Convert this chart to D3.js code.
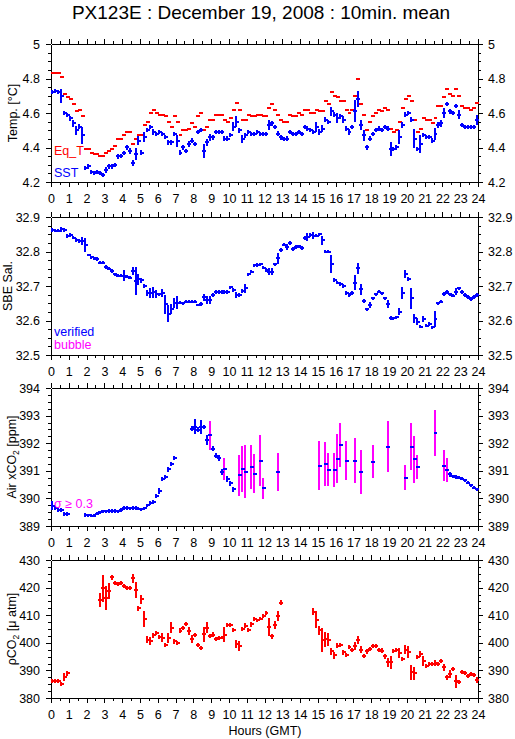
<!DOCTYPE html>
<html><head><meta charset="utf-8">
<script src="https://cdn.jsdelivr.net/npm/d3@7"></script>
<style>
body{margin:0;background:#fff}
svg text{font-family:"Liberation Sans",Arial,Helvetica,sans-serif;fill:#000}
</style></head><body>
<svg id="c" width="515" height="739"></svg>
<script>
// ---------- DATA (10-minute means, bin index 0..143) ----------
const hourLabels = ["0","1","2","3","4","5","6","7","8","9","10","11","12","13","14","15","16","17","18","19","20","21","22","23","24"];
// centre of each 10-minute bin, in hours
const binHours = d3.range(144).map(i => (i * 10 + 5) / 60);

const tempTicks = [4.2, 4.4, 4.6, 4.8, 5];
const tempTickLabels = ["4.2", "4.4", "4.6", "4.8", "5"];
const salTicks = [32.5, 32.6, 32.7, 32.8, 32.9];
const salTickLabels = ["32.5", "32.6", "32.7", "32.8", "32.9"];
const airTicks = [389, 390, 391, 392, 393, 394];
const airTickLabels = ["389", "390", "391", "392", "393", "394"];
const pco2Ticks = [380, 390, 400, 410, 420, 430];
const pco2TickLabels = ["380", "390", "400", "410", "420", "430"];

const eqT = [
4.83,4.83,4.83,4.81,4.71,4.69,4.68,4.65,4.61,4.62,
4.58,4.39,4.39,4.37,4.36,4.36,4.35,4.35,4.37,4.38,
4.39,4.41,4.45,4.45,4.47,4.49,4.49,4.42,4.45,4.47,
4.47,4.53,4.55,4.60,4.62,4.60,4.59,4.59,4.58,4.55,
4.52,4.58,4.55,4.47,4.50,4.50,4.51,4.54,4.52,4.58,
4.60,4.50,4.52,4.56,4.56,4.59,4.59,4.59,4.56,4.55,
4.57,4.62,4.66,4.62,4.56,4.56,4.59,4.58,4.58,4.59,
4.59,4.58,4.58,4.63,4.65,4.62,4.59,4.56,4.55,4.55,
4.59,4.58,4.58,4.60,4.59,4.62,4.62,4.60,4.60,4.62,
4.61,4.61,4.67,4.65,4.72,4.70,4.69,4.67,4.67,4.62,
4.60,4.62,4.70,4.80,4.65,4.59,4.50,4.55,4.58,4.60,
4.62,4.61,4.63,4.62,4.51,4.49,4.50,4.55,4.63,4.68,
4.70,4.67,4.56,4.49,4.51,4.57,4.56,4.56,4.54,4.57,
4.64,4.64,4.69,4.74,4.71,4.70,4.74,4.70,4.64,4.63,
4.63,4.62,4.63,4.66];

const sst = [
4.72,4.73,4.72,4.70,4.60,4.59,4.57,4.54,4.50,4.52,
4.47,4.28,4.29,4.26,4.25,4.26,4.25,4.24,4.27,4.29,
4.29,4.30,4.35,4.35,4.37,4.40,4.38,4.31,4.36,4.44,
4.37,4.46,4.50,4.52,4.49,4.48,4.49,4.48,4.46,4.43,
4.43,4.48,4.44,4.37,4.40,4.38,4.42,4.44,4.42,4.49,
4.50,4.38,4.43,4.46,4.46,4.49,4.49,4.49,4.45,4.45,
4.47,4.52,4.55,4.50,4.45,4.47,4.49,4.48,4.48,4.49,
4.48,4.48,4.48,4.53,4.54,4.52,4.48,4.46,4.45,4.45,
4.49,4.48,4.48,4.49,4.48,4.52,4.51,4.50,4.49,4.52,
4.49,4.51,4.56,4.55,4.61,4.59,4.57,4.58,4.56,4.51,
4.49,4.52,4.61,4.68,4.53,4.47,4.40,4.45,4.48,4.50,
4.51,4.50,4.52,4.51,4.39,4.39,4.40,4.46,4.53,4.59,
4.60,4.56,4.45,4.39,4.42,4.47,4.46,4.46,4.44,4.48,
4.53,4.54,4.60,4.65,4.61,4.60,4.64,4.59,4.53,4.52,
4.52,4.52,4.52,4.56];

const sstSd = [
.012,.012,.012,.04,.012,.012,.015,.02,.025,.015,
.05,.012,.012,.012,.012,.012,.012,.012,.015,.012,
.012,.012,.015,.012,.012,.012,.015,.02,.035,.025,
.015,.03,.012,.012,.015,.012,.012,.012,.012,.015,
.015,.012,.035,.015,.015,.012,.015,.015,.012,.012,
.012,.04,.02,.02,.015,.012,.012,.012,.015,.015,
.012,.025,.03,.015,.025,.015,.012,.012,.012,.012,
.012,.012,.012,.03,.015,.012,.015,.015,.012,.015,
.012,.012,.012,.012,.012,.012,.012,.012,.012,.03,
.02,.02,.015,.012,.025,.015,.03,.015,.02,.012,
.015,.012,.065,.045,.03,.03,.012,.015,.012,.012,
.012,.012,.012,.012,.04,.012,.012,.04,.015,.015,
.012,.015,.055,.012,.05,.012,.012,.012,.015,.035,
.015,.02,.03,.012,.015,.012,.012,.025,.012,.012,
.012,.012,.012,.03];

const salinity = [
32.862,32.860,32.860,32.864,32.862,32.845,32.848,32.840,32.833,32.830,
32.830,32.820,32.790,32.783,32.780,32.778,32.768,32.768,32.755,32.750,
32.744,32.734,32.730,32.730,32.730,32.727,32.724,32.743,32.714,32.720,
32.717,32.700,32.679,32.680,32.682,32.677,32.676,32.680,32.647,32.620,
32.634,32.650,32.652,32.652,32.650,32.655,32.655,32.655,32.655,32.645,
32.648,32.667,32.660,32.660,32.674,32.682,32.682,32.683,32.683,32.683,
32.696,32.688,32.674,32.674,32.686,32.693,32.734,32.742,32.760,32.761,
32.763,32.753,32.746,32.742,32.742,32.763,32.780,32.804,32.820,32.813,
32.824,32.807,32.813,32.815,32.810,32.838,32.841,32.848,32.846,32.846,
32.850,32.833,32.800,32.800,32.764,32.717,32.710,32.706,32.700,32.680,
32.674,32.680,32.710,32.751,32.690,32.657,32.632,32.645,32.664,32.676,
32.684,32.679,32.664,32.648,32.606,32.606,32.609,32.626,32.680,32.735,
32.720,32.664,32.606,32.597,32.582,32.604,32.585,32.590,32.580,32.604,
32.650,32.655,32.676,32.682,32.676,32.672,32.684,32.693,32.682,32.674,
32.668,32.662,32.668,32.674];

const salSd = [
.005,.004,.004,.007,.005,.005,.005,.005,.006,.006,
.012,.02,.004,.004,.004,.005,.005,.005,.005,.005,
.005,.005,.005,.005,.015,.005,.005,.012,.04,.016,
.007,.005,.008,.014,.016,.012,.005,.012,.028,.025,
.015,.015,.018,.005,.005,.005,.005,.005,.005,.004,
.005,.01,.011,.011,.005,.005,.005,.005,.005,.005,
.005,.005,.01,.005,.005,.014,.005,.005,.005,.005,
.005,.005,.005,.011,.011,.005,.015,.005,.005,.01,
.005,.005,.005,.005,.005,.006,.012,.005,.01,.005,
.005,.013,.005,.005,.025,.006,.005,.006,.005,.005,
.005,.005,.022,.015,.015,.006,.005,.009,.005,.005,
.005,.005,.005,.011,.006,.005,.005,.01,.018,.011,
.006,.03,.012,.011,.005,.008,.005,.005,.005,.024,
.005,.005,.006,.005,.005,.005,.009,.005,.005,.005,
.005,.005,.005,.005];

const airXco2 = [
389.74,389.66,389.57,389.57,389.45,389.45,null,null,null,null,
null,389.40,389.39,389.38,389.38,389.45,389.50,389.53,389.53,389.54,
389.54,389.54,389.53,389.58,389.65,389.65,389.64,389.65,389.65,389.63,
389.60,389.64,389.75,389.83,389.87,390.08,390.27,390.71,390.78,391.05,
391.25,391.47,null,null,null,null,null,392.53,392.60,392.49,
392.60,392.59,392.10,392.28,391.80,391.55,391.47,390.96,391.07,390.71,
390.54,390.33,null,390.83,391.07,390.96,null,391.14,390.90,null,
391.37,390.36,null,null,null,null,390.96,null,null,null,
null,null,null,null,null,null,null,null,null,null,
391.19,null,391.25,391.04,null,391.04,391.43,391.94,null,391.37,
null,null,391.37,null,390.96,null,null,null,391.33,null,
null,null,null,391.88,null,null,null,null,null,390.75,
null,391.88,391.41,391.14,null,null,null,null,null,392.37,
null,null,391.19,391.04,390.87,390.80,390.77,390.75,390.72,390.65,
390.57,390.47,390.39,390.33];

const airSd = [
.15,.07,.07,.07,.07,.07,0,0,0,0,
0,.06,.06,.06,.06,.06,.06,.06,.06,.06,
.06,.06,.06,.06,.06,.06,.06,.06,.06,.06,
.06,.06,.06,.06,.06,.08,.1,.08,.08,.08,
.08,.08,0,0,0,0,0,.08,.28,.08,
.25,.08,.18,.53,.1,.1,.1,.1,.39,.1,
.08,.08,0,.75,.83,.96,0,.81,.71,0,
.93,.38,0,0,0,0,.69,0,0,0,
0,0,0,0,0,0,0,0,0,0,
.9,0,.81,.59,0,.62,.89,.8,0,.72,
0,0,.83,0,.8,0,0,0,.6,0,
0,0,0,.92,0,0,0,0,0,.46,
0,.84,.84,.43,0,0,0,0,0,.83,
0,0,.55,.43,.08,.06,.06,.06,.06,.06,
.06,.06,.06,.06];

const pco2 = [
386.3,386.3,386.3,385.2,387.6,389.0,null,null,null,null,
null,null,null,null,null,null,415.5,419.8,416.1,418.8,
423.7,421.6,421.2,421.8,420.6,420.0,420.0,423.3,419.2,412.5,
415.8,408.7,401.1,400.7,402.7,403.7,402.0,401.9,399.3,401.7,
405.5,400.5,399.9,404.3,405.5,406.7,404.3,401.3,402.7,399.2,
398.1,403.1,405.5,402.5,403.0,401.3,401.6,401.9,402.9,406.5,
406.3,404.7,399.6,398.9,405.0,406.1,404.7,406.7,408.6,408.1,
408.8,409.8,410.7,405.7,402.3,406.5,409.8,414.6,null,null,
null,null,null,null,null,null,null,null,411.3,408.3,
404.5,401.1,401.3,401.1,396.9,395.4,398.9,399.3,396.5,395.7,
398.4,397.5,398.9,401.1,397.5,395.3,396.9,397.7,398.7,398.7,
397.5,397.2,395.1,392.9,392.9,396.9,397.5,396.3,394.1,397.5,
396.6,389.4,389.0,394.8,395.9,393.3,391.7,392.2,392.3,392.7,
392.3,393.3,391.1,387.5,388.8,390.6,386.0,385.8,389.4,389.0,
388.1,388.6,388.4,386.6];

const pco2Sd = [
.7,.7,.7,.7,1.5,.9,0,0,0,0,
0,0,0,0,0,0,2.4,4.9,4.3,2.9,
.9,.7,.7,.7,.7,.7,.7,1.6,3.0,.9,
1.6,2.8,1.2,1.5,.8,.7,.8,1.5,.7,1.7,
1.9,.8,.7,.9,.7,.7,1.5,1.5,.7,.9,
.7,2.7,1.9,.8,.9,.7,.7,.7,2.7,.8,
.7,.7,1.5,1.7,.8,.9,.7,.9,.7,.7,
.7,.7,.8,3.3,.8,1.5,1.8,.9,0,0,
0,0,0,0,0,0,0,0,1.2,3.1,
1.6,4.4,2.7,2.4,1.2,1.3,.9,.8,.8,.7,
.7,.7,1.5,1.5,1.2,.7,.8,.7,.7,.7,
.7,.8,.8,1.5,2.4,.7,.7,1.8,.7,1.6,
2.2,2.7,2.3,.8,1.2,1.8,.7,.7,.7,1.2,
.7,.7,1.2,.8,1.5,.7,2.4,.9,.7,.7,
.7,.7,.7,1.1];

// ---------- DRAWING ----------
const RED = "#ff0000", BLUE = "#0000ff", MAG = "#ff00ff";
const svg = d3.select("#c");
svg.append("rect").attr("width", 515).attr("height", 739).attr("fill", "#fff");

const X0 = 51, X1 = 478, PH = 138;
const x = d3.scaleLinear().domain([0, 24]).range([X0, X1]);
const hourVals = hourLabels.map(Number);
const halfHours = d3.range(0.5, 24, 1);

svg.append("text").attr("x", 261).attr("y", 19).attr("text-anchor", "middle")
  .attr("font-size", 19).text("PX123E : December 19, 2008 : 10min. mean");

function styleAxis(g) {
  g.attr("font-family", null).attr("font-size", null);
  g.selectAll("text").attr("font-size", 12.5);
  g.selectAll("path,line").attr("stroke", "#000").attr("shape-rendering", "crispEdges");
}

function panel(top, domain, ticks, tickLabels, minorStep) {
  const y = d3.scaleLinear().domain(domain).range([top + PH, top]);
  const fmt = (d, i) => tickLabels[i];
  const g = svg.append("g");
  const minor = d3.range(domain[0], domain[1] + minorStep / 2, minorStep)
    .filter(v => !ticks.some(t => Math.abs(t - v) < minorStep / 10));
  g.append("g").attr("transform", `translate(${X0},0)`)
    .call(d3.axisLeft(y).tickValues(ticks).tickSize(5).tickSizeOuter(0).tickPadding(6).tickFormat(fmt)).call(styleAxis);
  g.append("g").attr("transform", `translate(${X0},0)`)
    .call(d3.axisLeft(y).tickValues(minor).tickSize(3).tickSizeOuter(0).tickFormat("")).call(styleAxis);
  g.append("g").attr("transform", `translate(${X1},0)`)
    .call(d3.axisRight(y).tickValues(ticks).tickSize(5).tickSizeOuter(0).tickPadding(5).tickFormat(fmt)).call(styleAxis);
  g.append("g").attr("transform", `translate(${X1},0)`)
    .call(d3.axisRight(y).tickValues(minor).tickSize(3).tickSizeOuter(0).tickFormat("")).call(styleAxis);
  g.append("g").attr("transform", `translate(0,${top})`)
    .call(d3.axisTop(x).tickValues(hourVals).tickSize(5).tickSizeOuter(0).tickFormat("")).call(styleAxis);
  g.append("g").attr("transform", `translate(0,${top})`)
    .call(d3.axisTop(x).tickValues(halfHours).tickSize(3).tickSizeOuter(0).tickFormat("")).call(styleAxis);
  g.append("g").attr("transform", `translate(0,${top + PH})`)
    .call(d3.axisBottom(x).tickValues(hourVals).tickSize(5).tickSizeOuter(0).tickPadding(7).tickFormat((d, i) => hourLabels[i])).call(styleAxis);
  g.append("g").attr("transform", `translate(0,${top + PH})`)
    .call(d3.axisBottom(x).tickValues(halfHours).tickSize(3).tickSizeOuter(0).tickFormat("")).call(styleAxis);
  return { y, g };
}

function marks(p, vals, sds, hColor, vColorFn) {
  const data = vals.map((v, i) => ({ t: binHours[i], v, e: sds ? sds[i] : 0 })).filter(d => d.v != null);
  const m = p.g.append("g").attr("shape-rendering", "crispEdges");
  if (sds) {
    m.selectAll("line.v").data(data).join("line").attr("class", "v")
      .attr("x1", d => Math.round(x(d.t))).attr("x2", d => Math.round(x(d.t)))
      .attr("y1", d => Math.round(p.y(d.v - d.e))).attr("y2", d => Math.round(p.y(d.v + d.e)))
      .attr("stroke", d => vColorFn(d)).attr("stroke-width", 2);
  }
  m.selectAll("line.h").data(data).join("line").attr("class", "h")
    .attr("x1", d => Math.round(x(d.t - 1 / 12))).attr("x2", d => Math.round(x(d.t + 1 / 12)) + 1)
    .attr("y1", d => Math.round(p.y(d.v))).attr("y2", d => Math.round(p.y(d.v)))
    .attr("stroke", hColor).attr("stroke-width", 2);
}

function yTitle(xPos, cy, parts) {
  const t = svg.append("text").attr("transform", `translate(${xPos},${cy}) rotate(-90)`)
    .attr("text-anchor", "middle").attr("font-size", 12.5);
  parts.forEach(p => {
    const s = t.append("tspan").text(p.t);
    if (p.sub) s.attr("font-size", 8.5).attr("dy", 3);
    if (p.after) s.attr("dy", -3);
  });
}

// Panel 1: temperature
const p1 = panel(44, [4.2, 5], tempTicks, tempTickLabels, 0.05);
marks(p1, eqT, null, RED);
marks(p1, sst, sstSd, BLUE, () => BLUE);
yTitle(17, 113, [{ t: "Temp. [°C]" }]);
svg.append("text").attr("x", 54).attr("y", 155).attr("font-size", 12.5).style("fill", RED).text("Eq_T");
svg.append("text").attr("x", 54).attr("y", 177).attr("font-size", 12.5).style("fill", BLUE).text("SST");

// Panel 2: salinity
const p2 = panel(217, [32.5, 32.9], salTicks, salTickLabels, 0.025);
marks(p2, salinity, salSd, BLUE, () => BLUE);
yTitle(12, 286, [{ t: "SBE Sal." }]);
svg.append("text").attr("x", 54).attr("y", 336).attr("font-size", 12.5).style("fill", BLUE).text("verified");
svg.append("text").attr("x", 54).attr("y", 349).attr("font-size", 12.5).style("fill", MAG).text("bubble");

// Panel 3: air xCO2
const p3 = panel(388, [389, 394], airTicks, airTickLabels, 0.25);
marks(p3, airXco2, airSd, BLUE, d => d.e >= 0.3 ? MAG : BLUE);
yTitle(16, 457, [{ t: "Air xCO" }, { t: "2", sub: true }, { t: " [ppm]", after: true }]);
svg.append("text").attr("x", 54).attr("y", 508).attr("font-size", 12.5).style("fill", MAG).text("σ ≥ 0.3");

// Panel 4: pCO2
const p4 = panel(560, [380, 430], pco2Ticks, pco2TickLabels, 2.5);
marks(p4, pco2, pco2Sd, RED, () => RED);
yTitle(16, 629, [{ t: "ρCO" }, { t: "2", sub: true }, { t: " [μ atm]", after: true }]);

svg.append("text").attr("x", 265).attr("y", 735).attr("text-anchor", "middle").attr("font-size", 12.5).text("Hours (GMT)");
</script>
</body></html>
